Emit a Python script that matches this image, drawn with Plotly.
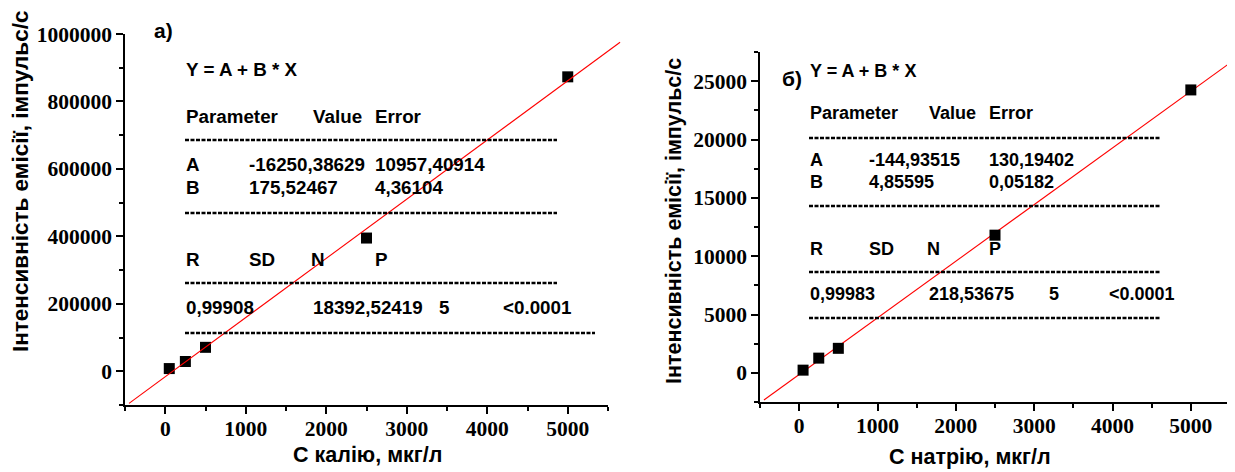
import plotly.graph_objects as go

# ---------------- data ----------------
conc_k = [50, 250, 500, 2500, 5000]
intensity_k = [8000, 29000, 71000, 395000, 873000]
conc_na = [50, 250, 500, 2500, 5000]
intensity_na = [230, 1260, 2100, 11800, 24250]

fit_k = {"A": -16250.38629, "B": 175.52467, "A_err": 10957.40914, "B_err": 4.36104,
         "R": "0,99908", "SD": "18392,52419", "N": "5", "P": "<0.0001"}
fit_na = {"A": -144.93515, "B": 4.85595, "A_err": 130.19402, "B_err": 0.05182,
          "R": "0,99983", "SD": "218,53675", "N": "5", "P": "<0.0001"}
fit_x_k = [-450, 5650]
fit_x_na = [-450, 5500]

x_range = [-500, 5500]
y_range_k = [-100000, 1000000]
y_range_na = [-2500, 27500]

x_title_k = "С калію, мкг/л"
x_title_na = "С натрію, мкг/л"
y_title = "Інтенсивність емісії, імпульс/с"

# ---------------- layout geometry (pixels of the final picture) ----------------
W, H = 1235, 472
OFF = 8  # page body margin of the browser
def px(x):
    return (x - OFF) / W
def py(y):
    return 1 - (y - OFF) / H

L_x0, L_x1, L_y0, L_y1 = 125, 608, 34, 405
R_x0, R_x1, R_y0, R_y1 = 760, 1230, 52, 402
L_ext = 624  # fit line of left panel runs past the axis end

def fmt(v):
    return f"{v:.5f}".replace(".", ",")

fig = go.Figure()

line_style = dict(color="#ff0000", width=1.1)
marker_style = dict(symbol="square", size=11, color="black")

ext_range_end = x_range[0] + (x_range[1] - x_range[0]) * (L_ext - L_x0) / (L_x1 - L_x0)
fig.add_trace(go.Scatter(x=fit_x_k, y=[fit_k["A"] + fit_k["B"] * x for x in fit_x_k],
                         mode="lines", line=line_style, xaxis="x3", yaxis="y",
                         showlegend=False, hoverinfo="skip"))
fig.add_trace(go.Scatter(x=conc_k, y=intensity_k, mode="markers", marker=marker_style,
                         xaxis="x", yaxis="y", showlegend=False, cliponaxis=False))
fig.add_trace(go.Scatter(x=fit_x_na, y=[fit_na["A"] + fit_na["B"] * x for x in fit_x_na],
                         mode="lines", line=line_style, xaxis="x2", yaxis="y2",
                         showlegend=False, hoverinfo="skip"))
fig.add_trace(go.Scatter(x=conc_na, y=intensity_na, mode="markers", marker=marker_style,
                         xaxis="x2", yaxis="y2", showlegend=False, cliponaxis=False))

tickfont = dict(family="Liberation Serif, Times New Roman, serif", size=21.5, color="black", weight="bold")
common_axis = dict(showgrid=False, zeroline=False, showline=True, linecolor="black", linewidth=1.5,
                   ticks="outside", ticklen=7, tickwidth=1.5, tickcolor="black", tickfont=tickfont,
                   fixedrange=True, automargin=False)
minor = dict(ticklen=4, ticks="outside", tickcolor="black", tickwidth=1.5)

fig.update_layout(
    width=W, height=H, margin=dict(l=0, r=0, t=0, b=0, pad=0),
    paper_bgcolor="white", plot_bgcolor="rgba(0,0,0,0)",
    xaxis=dict(domain=[px(L_x0), px(L_x1)], range=x_range, anchor="y", dtick=1000, tick0=0,
               ticklabelstandoff=-4, minor=dict(dtick=500, **minor), **common_axis),
    yaxis=dict(domain=[py(L_y1), py(L_y0)], range=y_range_k, anchor="x", dtick=200000, tick0=0,
               tickformat="d", minor=dict(dtick=100000, **minor), **common_axis),
    xaxis3=dict(domain=[px(L_x0), px(L_ext)], range=[x_range[0], ext_range_end], anchor="y",
                visible=False, fixedrange=True, automargin=False),
    xaxis2=dict(domain=[px(R_x0), px(R_x1)], range=x_range, anchor="y2", dtick=1000, tick0=0,
                ticklabelstandoff=-4, minor=dict(dtick=500, **minor), **common_axis),
    yaxis2=dict(domain=[py(R_y1), py(R_y0)], range=y_range_na, anchor="x2", dtick=5000, tick0=0,
                tickformat="d", minor=dict(dtick=2500, **minor), **common_axis),
)

sans = "Liberation Sans, Arial, sans-serif"
anns = []
def txt(t, x, y, size=18, **kw):
    d = dict(text=t, x=px(x), y=py(y), xref="paper", yref="paper", showarrow=False,
             xanchor="left", yanchor="middle",
             font=dict(family=sans, size=size, color="black", weight="bold"))
    d.update(kw)
    anns.append(d)

txt(y_title, 20, 182, size=22.5, textangle=-90, xanchor="center")
txt(y_title, 674, 221, size=21.5, textangle=-90, xanchor="center")
txt(x_title_k, 367, 455, size=21.5, xanchor="center")
txt(x_title_na, 970, 457, size=21.5, xanchor="center")
txt("а)", 152, 31, size=21)
txt("б)", 780, 78, size=21)

shapes = []
def dash(x0, x1, y):
    shapes.append(dict(type="line", xref="paper", yref="paper", x0=px(x0), x1=px(x1),
                       y0=py(y), y1=py(y), line=dict(color="black", width=2.5, dash="4px,1.5px")))

def block(f, cols, rows, x_end, x_end_last, size):
    c0, c1, c2, c3, c4 = cols
    r = rows
    txt("Y = A + B * X", c0 - 1, r[0], size)
    txt("Parameter", c0 - 1, r[1], size); txt("Value", c2 - 1, r[1], size); txt("Error", c3 - 1, r[1], size)
    dash(c0, x_end, r[2])
    txt("A", c0 - 1, r[3], size); txt(fmt(f["A"]), c1 - 1, r[3], size); txt(fmt(f["A_err"]), c3 - 1, r[3], size)
    txt("B", c0 - 1, r[4], size); txt(fmt(f["B"]), c1 - 1, r[4], size); txt(fmt(f["B_err"]), c3 - 1, r[4], size)
    dash(c0, x_end, r[5])
    txt("R", c0 - 1, r[6], size); txt("SD", c1 - 1, r[6], size); txt("N", c2 - 3, r[6], size); txt("P", c3 - 1, r[6], size)
    dash(c0, x_end, r[7])
    txt(f["R"], c0 - 1, r[8], size); txt(f["SD"], c2 - 1, r[8], size); txt(f["N"], c4[0] - 1, r[8], size)
    txt(f["P"], c4[1] - 1, r[8], size)
    dash(c0, x_end_last, r[9])

block(fit_k, (185, 248, 312, 374, (438, 502)),
      [70, 116, 140, 164, 187, 213, 259, 283, 307, 333], 557, 595, 18.8)
block(fit_na, (809, 868, 928, 988, (1048, 1108)),
      [71, 113, 138, 160, 182, 206, 249, 272, 294, 318], 1160, 1160, 18)

fig.update_layout(annotations=anns, shapes=shapes)
fig.write_html("out.html")
